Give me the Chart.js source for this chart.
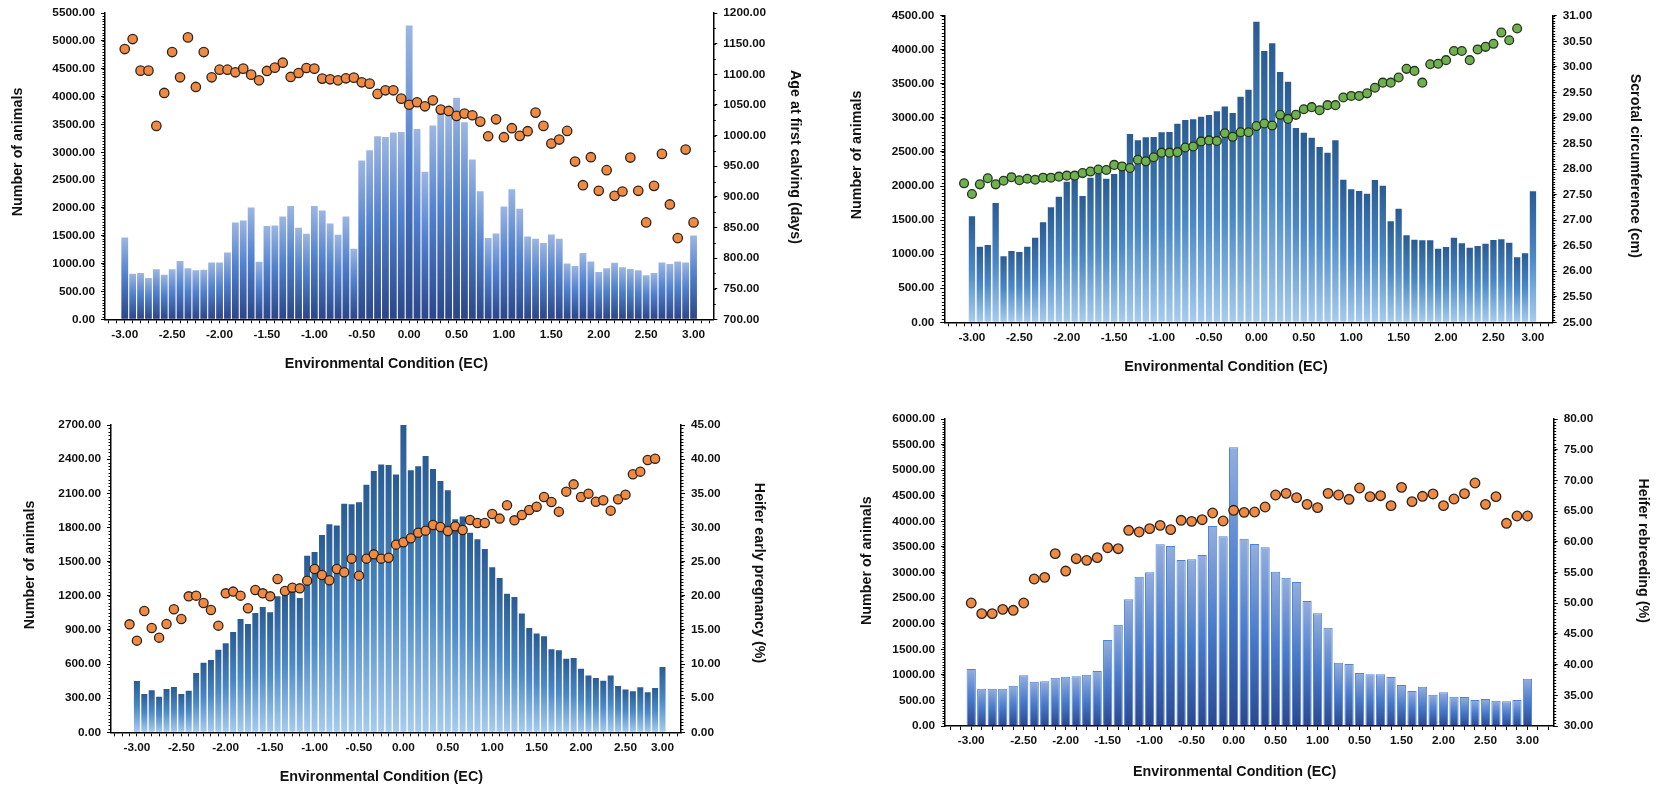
<!DOCTYPE html>
<html>
<head>
<meta charset="utf-8">
<script src="https://cdn.jsdelivr.net/npm/chart.js@4.4.1/dist/chart.umd.min.js"></script>
<style>
  html, body { margin: 0; padding: 0; background: #fff; }
  body { width: 1656px; height: 787px; position: relative; overflow: hidden; }
  canvas { position: absolute; }
</style>
</head>
<body>
<canvas id="afc" width="820" height="390" style="left:0;top:0"></canvas>
<canvas id="sc" width="826" height="390" style="left:830px;top:0"></canvas>
<canvas id="hp" width="820" height="392" style="left:0;top:395px"></canvas>
<canvas id="rb" width="826" height="392" style="left:830px;top:395px"></canvas>
<script>
// ---- Printed EC tick labels and how many bins lie between consecutive labels ----
const ecTicks = ['-3.00', '-2.50', '-2.00', '-1.50', '-1.00', '-0.50', '0.00', '0.50', '1.00', '1.50', '2.00', '2.50', '3.00'];
const ecTicksRb = ['-3.00', '-2.50', '-2.00', '-1.50', '-1.00', '-0.50', '0.00', '0.50', '1.00', '0.50', '1.50', '2.00', '2.50', '3.00'];
const binsEven = [6, 6, 6, 6, 6, 6, 6, 6, 6, 6, 6, 6];
const binsShortEnd = [6, 6, 6, 6, 6, 6, 6, 6, 6, 6, 6, 5];
const binsRb = [5, 4, 4, 4, 4, 4, 4, 4, 4, 4, 4, 4, 4];

// ---- Age at first calving ----
const afcAnimals = [1470, 819, 831, 741, 897, 801, 897, 1046, 915, 879, 891, 1022, 1022, 1202, 1740, 1775, 2009, 1034, 1674, 1686,
  1847, 2033, 1644, 1536, 2033, 1955, 1722, 1518, 1847, 1267, 2852, 3037, 3288, 3276, 3354, 3366, 5279, 3419, 2648, 3479,
  3700, 3665, 3981, 3539, 2869, 2302, 1459, 1542, 2027, 2337, 1985, 1489, 1447, 1369, 1524, 1447, 1004, 956, 1190, 1040,
  849, 915, 1016, 933, 903, 879, 789, 831, 1022, 992, 1040, 1022, 1506];
const afcDays = [1141.3, 1157.6, 1106.0, 1106.0, 1015.8, 1069.6, 1136.4, 1095.1, 1160.3, 1079.4, 1136.4, 1095.1, 1107.6, 1107.6, 1103.3, 1109.3, 1099.5, 1090.2, 1105.5, 1110.9,
  1119.0, 1095.7, 1102.2, 1110.3, 1109.3, 1093.0, 1091.9, 1090.2, 1093.5, 1094.6, 1087.0, 1084.8, 1068.0, 1073.9, 1073.9, 1060.3, 1050.3, 1054.4, 1047.8, 1057.6,
  1042.4, 1040.2, 1032.1, 1035.9, 1033.2, 1022.8, 998.9, 1026.6, 997.3, 1012.0, 999.5, 1007.1, 1037.5, 1015.8, 987.0, 993.5, 1007.6, 957.6, 919.0, 964.7,
  909.8, 943.5, 901.6, 908.7, 964.1, 909.8, 858.2, 917.9, 970.1, 887.5, 832.6, 977.2, 858.2];

// ---- Scrotal circumference ----
const scAnimals = [null, 1555, 1110, 1135, 1751, 968, 1047, 1032, 1110, 1242, 1467, 1687, 1844, 2064, 2103, 1854, 2123, 2180, 2108, 2177,
  2250, 2763, 2671, 2715, 2719, 2788, 2793, 2915, 2969, 2979, 3018, 3042, 3096, 3169, 3071, 3311, 3414, 4412, 3981, 4094,
  3673, 3531, 2851, 2783, 2710, 2573, 2490, 2671, 2093, 1951, 1927, 1888, 2088, 2005, 1482, 1668, 1277, 1213, 1203, 1203,
  1081, 1105, 1242, 1159, 1096, 1120, 1154, 1208, 1218, 1169, 954, 1012, 1922];
const scCm = [27.72, 27.51, 27.70, 27.82, 27.70, 27.77, 27.84, 27.78, 27.81, 27.79, 27.83, 27.83, 27.85, 27.87, 27.87, 27.92, 27.95, 27.99, 27.98, 28.08,
  28.05, 28.02, 28.18, 28.15, 28.23, 28.32, 28.32, 28.33, 28.42, 28.44, 28.54, 28.56, 28.55, 28.70, 28.63, 28.72, 28.72, 28.84, 28.89, 28.85,
  29.06, 28.98, 29.06, 29.17, 29.21, 29.15, 29.25, 29.25, 29.40, 29.43, 29.43, 29.48, 29.59, 29.69, 29.69, 29.79, 29.96, 29.92, 29.69, 30.05,
  30.06, 30.13, 30.31, 30.31, 30.13, 30.34, 30.39, 30.45, 30.67, 30.52, 30.75, null, null];

// ---- Heifer early pregnancy ----
const hpAnimals = [null, 451, 337, 369, 313, 381, 398, 337, 366, 521, 612, 635, 726, 782, 881, 996, 952, 1048, 1101, 1054,
  1195, 1205, 1250, 1180, 1552, 1584, 1734, 1827, 1816, 2009, 2003, 2021, 2176, 2296, 2352, 2349, 2264, 2700, 2302, 2337,
  2428, 2313, 2208, 2126, 1871, 1895, 1754, 1696, 1611, 1450, 1356, 1218, 1189, 1043, 917, 867, 843, 729, 720, 647,
  653, 559, 498, 477, 454, 498, 407, 375, 360, 395, 351, 389, 574];
const hpPct = [15.81, 13.42, 17.77, 15.28, 13.86, 15.86, 18.01, 16.59, 19.91, 20.01, 18.94, 17.91, 15.62, 20.35, 20.60, 20.01, 18.16, 20.84, 20.35, 19.91,
  22.45, 20.69, 21.18, 21.08, 22.21, 23.92, 23.04, 22.26, 23.92, 23.43, 25.43, 22.94, 25.43, 26.06, 25.43, 25.57, 27.48, 27.82, 28.41, 29.22,
  29.53, 30.36, 30.06, 29.48, 30.16, 29.63, 31.09, 30.65, 30.65, 31.97, 31.29, 33.24, 31.04, 31.82, 32.55, 33.04, 34.46, 33.73, 32.31, 35.24,
  36.31, 34.46, 34.95, 33.77, 33.97, 32.46, 34.12, 34.80, 37.78, 38.17, 39.88, 40.07, null];

// ---- Heifer rebreeding ----
const rbAnimals = [1114, 730, 730, 730, 788, 990, 866, 873, 945, 964, 971, 1003, 1075, 1681, 1980, 2476, 2919, 3003, 3550, 3518,
  3244, 3257, 3342, 3909, 3707, 5446, 3658, 3557, 3492, 3016, 2899, 2814, 2443, 2202, 1922, 1238, 1212, 1036, 1010, 1010,
  958, 801, 684, 769, 612, 658, 573, 567, 508, 528, 495, 482, 508, 925];
const rbPct = [50.03, 48.30, 48.30, 49.00, 48.84, 50.03, 53.94, 54.21, 58.07, 55.24, 57.25, 56.98, 57.42, 59.04, 58.88, 61.87, 61.60, 62.14, 62.68, 61.98,
  63.50, 63.33, 63.60, 64.69, 63.39, 65.13, 64.80, 64.85, 65.67, 67.62, 67.89, 67.19, 66.10, 65.56, 67.89, 67.62, 66.92, 68.76, 67.35, 67.51,
  65.89, 68.87, 66.54, 67.41, 67.79, 65.89, 66.97, 67.84, 69.58, 66.10, 67.35, 63.01, 64.20, 64.20];

// Category list for an EC axis: printed labels with blank bins in between
function ecBins(ticks, gaps, lead) {
  const bins = Array(lead).fill('');
  ticks.forEach((t, i) => {
    bins.push(t);
    if (i < gaps.length) for (let j = 1; j < gaps[i]; j++) bins.push('');
  });
  return bins;
}

const FONT = "'Liberation Sans', Arial, Helvetica, sans-serif";
const INK = '#111';
Chart.defaults.font.family = FONT;
Chart.defaults.color = INK;

// Vertical gradient spanning each bar from its top down to the baseline
function barGradient(stops) {
  return (c) => {
    const chart = c.chart;
    const v = c.parsed ? c.parsed.y : null;
    if (!chart.chartArea || v == null) return stops[1][1];
    const s = chart.scales.y;
    const yTop = s.getPixelForValue(v), yBase = s.getPixelForValue(s.min);
    if (!isFinite(yTop) || yBase - yTop < 1) return stops[0][1];
    const g = chart.ctx.createLinearGradient(0, yTop, 0, yBase);
    stops.forEach(([o, col]) => g.addColorStop(o, col));
    return g;
  };
}

// Short minor tick marks along the value axes
const minorTicks = {
  id: 'minorTicks',
  afterDraw(chart, args, opts) {
    const ctx = chart.ctx;
    ctx.save();
    ctx.strokeStyle = '#000';
    ctx.lineWidth = 1;
    for (const id of ['y', 'y1']) {
      const n = opts[id];
      const s = chart.scales[id];
      if (!n || !s) continue;
      const step = s.options.ticks.stepSize / n;
      const left = s.position === 'left';
      const x0 = left ? s.right : s.left;
      const dir = left ? -1 : 1;
      const count = Math.round((s.max - s.min) / step);
      for (let k = 0; k <= count; k++) {
        const y = Math.round(s.getPixelForValue(s.min + k * step)) + 0.5;
        ctx.beginPath();
        ctx.moveTo(x0, y);
        ctx.lineTo(x0 + dir * 2.5, y);
        ctx.stroke();
      }
    }
    ctx.restore();
  }
};

// Axis titles
const axisTitles = {
  id: 'axisTitles',
  afterDraw(chart, args, opts) {
    const ctx = chart.ctx;
    ctx.save();
    ctx.fillStyle = INK;
    ctx.font = 'bold 14.3px ' + FONT;
    ctx.textAlign = 'center';
    ctx.textBaseline = 'middle';
    for (const t of opts.items) {
      ctx.save();
      ctx.translate(t.x, t.y);
      ctx.rotate(t.rot * Math.PI / 180);
      ctx.fillText(t.text, 0, 0);
      ctx.restore();
    }
    ctx.restore();
  }
};

function panel(id, cfg) {
  const el = document.getElementById(id);
  const W = el.width, H = el.height, A = cfg.area;
  const labels = ['', '', ...cfg.bins, '', ''];
  const wrap = arr => [null, null, ...arr, null, null];
  const tickFont = { size: 11.8, weight: 'bold', family: FONT };
  const valueAxis = (pos, r, width) => ({
    type: 'linear',
    position: pos,
    min: r[0], max: r[1],
    grid: { drawOnChartArea: false, drawTicks: true, tickLength: 4, color: '#000', lineWidth: 1 },
    border: { display: true, color: '#000', width: 1.5 },
    ticks: { stepSize: r[2], font: tickFont, color: INK, padding: 6, callback: v => Number(v).toFixed(2) },
    afterFit: s => { s.width = width; }
  });
  new Chart(el, {
    data: {
      labels,
      datasets: [
        {
          type: 'line', data: wrap(cfg.points), yAxisID: 'y1', order: 0,
          showLine: false,
          pointRadius: cfg.dot, pointBorderWidth: 1.3,
          pointBackgroundColor: cfg.dotFill, pointBorderColor: cfg.dotEdge
        },
        {
          type: 'bar', data: wrap(cfg.bars), yAxisID: 'y', order: 1,
          backgroundColor: barGradient(cfg.barStops),
          borderColor: cfg.barEdge || 'rgba(0,0,0,0)', borderWidth: cfg.barEdge ? 1 : 0,
          categoryPercentage: 1, barPercentage: cfg.barPct
        }
      ]
    },
    options: {
      responsive: false, animation: false, devicePixelRatio: 1,
      layout: { padding: { top: A.top, left: 0, right: 0, bottom: 0 } },
      plugins: {
        legend: { display: false }, tooltip: { enabled: false },
        minorTicks: cfg.minor,
        axisTitles: { items: cfg.titles }
      },
      scales: {
        x: {
          type: 'category', offset: true,
          grid: { display: true, drawOnChartArea: false, drawTicks: true, tickLength: 4, color: '#000', lineWidth: 1, offset: false },
          border: { display: true, color: '#000', width: 1.5 },
          ticks: { autoSkip: false, maxRotation: 0, minRotation: 0, padding: 4, font: tickFont, color: INK },
          afterFit: s => { s.height = H - A.bottom; }
        },
        y: valueAxis('left', cfg.yRange, A.left),
        y1: valueAxis('right', cfg.y1Range, W - A.right)
      }
    },
    plugins: [minorTicks, axisTitles]
  });
}

const orange = { dotFill: '#f08a43', dotEdge: '#2a2420' };
const green = { dotFill: '#6fb04f', dotEdge: '#26331f' };
const lightTop = [[0, '#9db6e1'], [0.45, '#5281cf'], [1, '#2a4687']];
const darkTop = [[0, '#2a5b92'], [0.5, '#4a88c6'], [1, '#a7ccee']];

panel('afc', Object.assign({
  area: { left: 105, right: 713.3, top: 12.7, bottom: 319.3 },
  bins: ecBins(ecTicks, binsEven, 0),
  bars: afcAnimals, points: afcDays,
  yRange: [0, 5500, 500], y1Range: [700, 1200, 50],
  barStops: lightTop, barPct: 0.86, dot: 4.7,
  minor: { y: 10, y1: 2 },
  titles: [
    { text: 'Number of animals', x: 18.3, y: 152, rot: -90 },
    { text: 'Age at first calving (days)', x: 795, y: 157, rot: 90 },
    { text: 'Environmental Condition (EC)', x: 386.3, y: 364, rot: 0 }
  ]
}, orange));

panel('sc', Object.assign({
  area: { left: 114.3, right: 722.7, top: 15.7, bottom: 322.3 },
  bins: ecBins(ecTicks, binsShortEnd, 1),
  bars: scAnimals, points: scCm,
  yRange: [0, 4500, 500], y1Range: [25, 31, 0.5],
  barStops: darkTop, barPct: 0.8, dot: 4.4,
  minor: { y: 10, y1: 10 },
  titles: [
    { text: 'Number of animals', x: 27.5, y: 155, rot: -90 },
    { text: 'Scrotal circumference (cm)', x: 805.2, y: 165.8, rot: 90 },
    { text: 'Environmental Condition (EC)', x: 396, y: 366.7, rot: 0 }
  ]
}, green));

panel('hp', Object.assign({
  area: { left: 111, right: 681, top: 30, bottom: 337.3 },
  bins: ecBins(ecTicks, binsShortEnd, 1),
  bars: hpAnimals, points: hpPct,
  yRange: [0, 2700, 300], y1Range: [0, 45, 5],
  barStops: darkTop, barPct: 0.81, dot: 4.6,
  minor: { y: 10, y1: 10 },
  titles: [
    { text: 'Number of animals', x: 30, y: 170, rot: -90 },
    { text: 'Heifer early pregnancy (%)', x: 758.7, y: 178, rot: 90 },
    { text: 'Environmental Condition (EC)', x: 381.3, y: 381.7, rot: 0 }
  ]
}, orange));

panel('rb', Object.assign({
  area: { left: 115, right: 723.7, top: 24, bottom: 331 },
  bins: ecBins(ecTicksRb, binsRb, 0),
  bars: rbAnimals, points: rbPct,
  yRange: [0, 6000, 500], y1Range: [30, 80, 5],
  barStops: [[0, '#94aedd'], [0.5, '#4a7bcc'], [1, '#2b4890']], barEdge: '#4d84d3', barPct: 0.88, dot: 4.8,
  minor: { y: 10, y1: 10 },
  titles: [
    { text: 'Number of animals', x: 36.7, y: 165.7, rot: -90 },
    { text: 'Heifer rebreeding (%)', x: 813.3, y: 155.7, rot: 90 },
    { text: 'Environmental Condition (EC)', x: 404.7, y: 376.7, rot: 0 }
  ]
}, orange));
</script>
</body>
</html>
